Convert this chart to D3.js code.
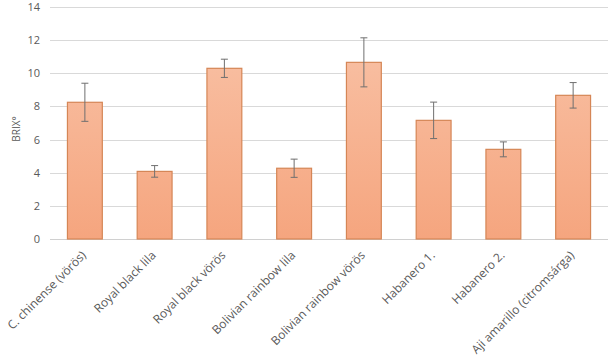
<!DOCTYPE html>
<html>
<head>
<meta charset="utf-8">
<script src="https://cdn.jsdelivr.net/npm/d3@7"></script>
<style>
  body { margin: 0; background: #fff; }
  text { font-family: "Open Sans", "Liberation Sans", sans-serif; }
</style>
</head>
<body>
<div id="chart"></div>
<script>

// data
const categories = ['C. chinense (vörös)', 'Royal black lila', 'Royal black vörös', 'Bolivian rainbow lila',
    'Bolivian rainbow vörös', 'Habanero 1.', 'Habanero 2.', 'Aji amarillo (citromsárga)'];
const brixValues = [8.25, 4.08, 10.3, 4.27, 10.66, 7.16, 5.41, 8.67];
const brixErrors = [1.15, 0.35, 0.55, 0.55, 1.48, 1.1, 0.45, 0.77];
const yTicks = [0, 2, 4, 6, 8, 10, 12, 14];

function drawBarChart(place) {

    const data = categories.map((c, i) => ({ name: c, value: brixValues[i], err: brixErrors[i] }));

    //set dimensions
    let dimensions = {
        width: 616,
        height: 364,
        margin: { top: 7, right: 8, bottom: 125, left: 50 },
    };
    const innerW = dimensions.width - dimensions.margin.left - dimensions.margin.right;
    const innerH = dimensions.height - dimensions.margin.top - dimensions.margin.bottom;

    let svg = d3.select(place).append('svg')
        .attr('width', dimensions.width)
        .attr('height', dimensions.height);

    // bar gradient
    let grad = svg.append('defs').append('linearGradient')
        .attr('id', 'bar-grad')
        .attr('x1', 0).attr('x2', 0)
        .attr('gradientUnits', 'userSpaceOnUse')
        .attr('y1', dimensions.margin.top)
        .attr('y2', dimensions.margin.top + innerH);
    grad.append('stop').attr('offset', '0%').attr('stop-color', '#f9c4a9');
    grad.append('stop').attr('offset', '100%').attr('stop-color', '#f5a47d');

    let bounds = svg.append('g')
        .attr('transform', `translate(${dimensions.margin.left},${dimensions.margin.top})`);

    //scales
    let yScale = d3.scaleLinear()
        .domain([0, 14])
        .range([innerH, 0]);

    let xScale = d3.scaleBand()
        .domain(categories)
        .range([0, innerW])
        .paddingInner(0.5)
        .paddingOuter(0.25);

    // gridlines
    bounds.append('g')
        .selectAll('line')
        .data(yTicks)
        .join('line')
        .attr('x1', 0)
        .attr('x2', innerW)
        .attr('y1', d => Math.round(yScale(d)) + 0.5)
        .attr('y2', d => Math.round(yScale(d)) + 0.5)
        .attr('stroke', d => d === 0 ? '#d0d0d0' : '#d9d9d9')
        .attr('stroke-width', 1);

    // y axis labels
    let yAxis = bounds.append('g')
        .call(d3.axisLeft(yScale).tickValues(yTicks).tickSize(0).tickPadding(10));
    yAxis.select('.domain').remove();
    yAxis.selectAll('text')
        .attr('fill', '#595959')
        .style('font-size', '11px');

    // y title
    svg.append('text')
        .attr('transform', `translate(20,${dimensions.margin.top + innerH / 2 + 6}) rotate(-90)`)
        .attr('text-anchor', 'middle')
        .attr('fill', '#595959')
        .style('font-size', '10px')
        .text('BRIX°');

    // bars
    bounds.selectAll('rect.bar')
        .data(data)
        .join('rect')
        .attr('class', 'bar')
        .attr('x', d => xScale(d.name))
        .attr('y', d => yScale(d.value))
        .attr('width', xScale.bandwidth())
        .attr('height', d => innerH - yScale(d.value))
        .attr('fill', 'url(#bar-grad)')
        .attr('stroke', '#d58656')
        .attr('stroke-width', 1.2);

    // error bars
    let eb = bounds.append('g').selectAll('g')
        .data(data)
        .join('g')
        .attr('transform', d => `translate(${xScale(d.name) + xScale.bandwidth() / 2},0)`);
    eb.append('line')
        .attr('y1', d => yScale(d.value + d.err))
        .attr('y2', d => yScale(d.value - d.err))
        .attr('stroke', '#6f6f6f');
    eb.selectAll('line.cap')
        .data(d => [d.value + d.err, d.value - d.err])
        .join('line')
        .attr('class', 'cap')
        .attr('x1', -3.5).attr('x2', 3.5)
        .attr('y1', d => yScale(d))
        .attr('y2', d => yScale(d))
        .attr('stroke', '#6f6f6f');

    // x labels
    bounds.append('g')
        .selectAll('text')
        .data(categories)
        .join('text')
        .attr('transform', d => `translate(${xScale(d) + xScale.bandwidth() / 2 + 2},${innerH + 17}) rotate(-45)`)
        .attr('text-anchor', 'end')
        .attr('fill', '#595959')
        .style('font-size', '12px')
        .text(d => d);
}

drawBarChart('#chart');
</script>
</body>
</html>
